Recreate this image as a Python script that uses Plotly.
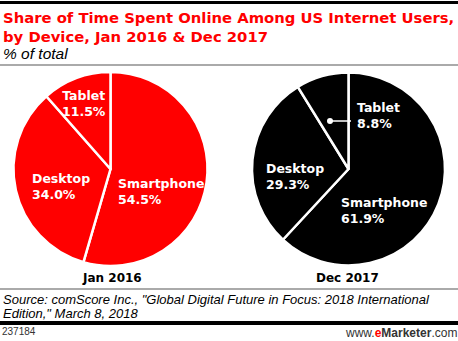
import plotly.graph_objects as go

W, H = 458, 341

devices = ["Smartphone", "Desktop", "Tablet"]
jan2016 = [54.5, 34.0, 11.5]
dec2017 = [61.9, 29.3, 8.8]
period_labels = ["Jan 2016", "Dec 2017"]

title_l1 = "Share of Time Spent Online Among US Internet Users,"
title_l2 = "by Device, Jan 2016 & Dec 2017"
subtitle = "% of total"
source_l1 = 'Source: comScore Inc., "Global Digital Future in Focus: 2018 International'
source_l2 = 'Edition," March 8, 2018'
chart_id = "237184"

def px(x):
    return x / W

def py(y):
    return 1 - y / H

fig = go.Figure()

# pie domains in pixels (x0, x1, ytop, ybottom)
doms = [(13, 208, 72, 266), (252, 445, 72, 266)]
colors = ["#ff0000", "#000000"]
for vals, d, c in zip([jan2016, dec2017], doms, colors):
    fig.add_trace(go.Pie(
        labels=devices, values=vals, sort=False, direction="clockwise",
        rotation=0, textinfo="none", hoverinfo="label+value",
        marker=dict(colors=[c] * 3, line=dict(color="white", width=2.5)),
        domain=dict(x=[px(d[0]), px(d[1])], y=[py(d[3]), py(d[2])]),
        showlegend=False,
    ))

FONT = "DejaVu Sans"
ARIAL = "Liberation Sans"
ann = []

def label(x, y, name, val, align="left", xanchor="left"):
    ann.append(dict(x=px(x), y=py(y), xref="paper", yref="paper",
                    text=f"<b>{name}</b><br><b>{val:.1f}%</b>", showarrow=False,
                    xanchor=xanchor, yanchor="top", align=align,
                    font=dict(family=FONT, size=12.5, color="white")))

# Jan 2016
label(84, 86, devices[2], jan2016[2], align="center", xanchor="center")
label(30, 169, devices[1], jan2016[1])
label(116, 174, devices[0], jan2016[0])
# Dec 2017
label(355, 98, devices[2], dec2017[2])
label(264, 159, devices[1], dec2017[1])
label(339, 193, devices[0], dec2017[0])

# period labels
for x, t in zip([112, 347], period_labels):
    ann.append(dict(x=px(x), y=py(278), xref="paper", yref="paper", text=f"<b>{t}</b>",
                    showarrow=False, xanchor="center", yanchor="middle",
                    font=dict(family=FONT, size=12, color="black")))

# titles
ann.append(dict(x=px(1), y=py(7), xref="paper", yref="paper",
                text=f"<b>{title_l1}</b><br><b>{title_l2}</b>", showarrow=False,
                xanchor="left", yanchor="top", align="left",
                font=dict(family=FONT, size=14.8, color="#ff0000")))
ann.append(dict(x=px(1), y=py(43), xref="paper", yref="paper",
                text=f"<i>{subtitle}</i>", showarrow=False,
                xanchor="left", yanchor="top", align="left",
                font=dict(family=ARIAL, size=15.5, color="black")))
for i, line in enumerate([source_l1, source_l2]):
    ann.append(dict(x=px(1), y=py(299 + 14.5 * i), xref="paper", yref="paper",
                    text=f"<i>{line}</i>", showarrow=False,
                    xanchor="left", yanchor="middle", align="left",
                    font=dict(family=ARIAL, size=13, color="black")))
ann.append(dict(x=px(0), y=py(331), xref="paper", yref="paper",
                text=chart_id, showarrow=False, xanchor="left", yanchor="middle",
                font=dict(family=ARIAL, size=10, color="#333333")))
ann.append(dict(x=px(459), y=py(333), xref="paper", yref="paper",
                text='www.<b><span style="color:#ff0000">e</span>Marketer</b>.com',
                showarrow=False, xanchor="right", yanchor="middle",
                font=dict(family=ARIAL, size=12, color="#333333")))

shapes = [
    dict(type="rect", xref="paper", yref="paper", x0=0, x1=1, y0=py(4), y1=py(1),
         fillcolor="black", line=dict(width=0)),
    dict(type="rect", xref="paper", yref="paper", x0=0, x1=1, y0=py(66), y1=py(64),
         fillcolor="#aaaaaa", line=dict(width=0)),
    dict(type="rect", xref="paper", yref="paper", x0=0, x1=1, y0=py(290), y1=py(288),
         fillcolor="#aaaaaa", line=dict(width=0)),
    dict(type="rect", xref="paper", yref="paper", x0=0, x1=1, y0=py(325), y1=py(321),
         fillcolor="black", line=dict(width=0)),
    # tablet callout for Dec 2017
    dict(type="line", xref="paper", yref="paper", x0=px(330), x1=px(351), y0=py(121), y1=py(121),
         line=dict(color="white", width=1.5)),
    dict(type="circle", xref="paper", yref="paper", x0=px(327), x1=px(333), y0=py(124), y1=py(118),
         fillcolor="white", line=dict(width=0)),
]

fig.update_layout(width=W, height=H, margin=dict(l=0, r=0, t=0, b=0),
                  paper_bgcolor="white", plot_bgcolor="white",
                  annotations=ann, shapes=shapes)

fig.write_html("out.html")
